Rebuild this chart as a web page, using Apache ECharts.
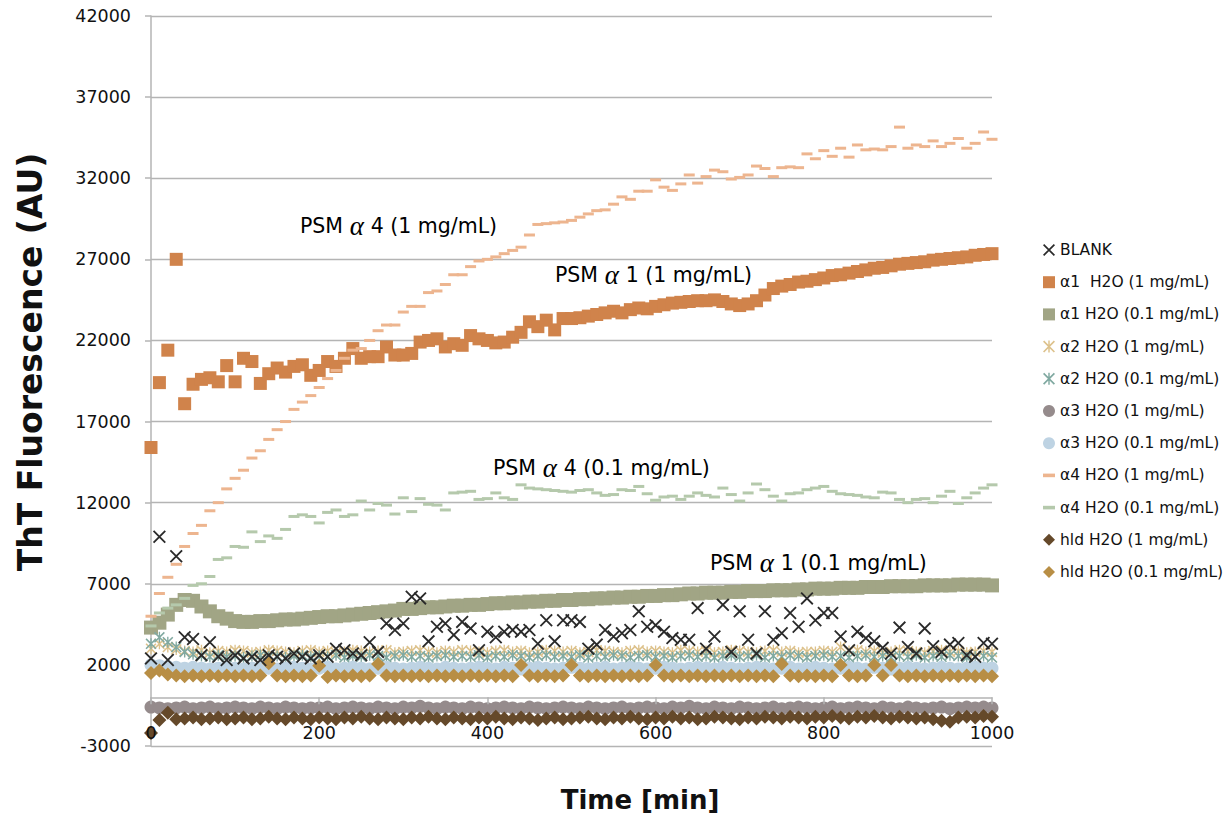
<!DOCTYPE html>
<html><head><meta charset="utf-8">
<script src="https://cdn.jsdelivr.net/npm/echarts@6/dist/echarts.min.js"></script>
<style>html,body{margin:0;padding:0;background:#fff}#c{width:1231px;height:819px}</style>
</head><body><div id="c"></div>
<script>
const times = [
 0,10,20,30,40,50,60,70,80,90,
 100,110,120,130,140,150,160,170,180,190,
 200,210,220,230,240,250,260,270,280,290,
 300,310,320,330,340,350,360,370,380,390,
 400,410,420,430,440,450,460,470,480,490,
 500,510,520,530,540,550,560,570,580,590,
 600,610,620,630,640,650,660,670,680,690,
 700,710,720,730,740,750,760,770,780,790,
 800,810,820,830,840,850,860,870,880,890,
 900,910,920,930,940,950,960,970,980,990,
 1000];

const blank = [
 2400,9900,2300,8700,3700,3600,2600,3400,2500,2300,
 2600,2400,2500,2300,2600,2500,2400,2700,2500,2400,
 2600,2500,3000,2900,2700,2600,3400,2800,4550,4150,
 4550,6200,6100,3450,4350,4550,3850,4650,4250,2900,
 4050,3700,4050,4150,4050,4150,3300,4750,3450,4750,
 4750,4650,3000,3250,4150,3750,3950,4150,5300,4350,
 4450,4050,3650,3550,3550,5500,3000,3750,5700,2800,
 5300,3550,2700,5300,3550,3950,5200,4350,6100,4750,
 5200,5200,3750,2900,4050,3650,3450,3050,2700,4300,
 3100,2700,4250,3150,2800,3250,3350,2600,2500,3350,
 3300];

const a1High = [
 15400,19400,21400,27000,18100,19300,19600,19700,19450,20450,
 19450,20900,20700,19350,19950,20300,20050,20400,20500,19850,
 20150,20700,20400,20900,21500,20900,21000,21000,21600,21100,
 21100,21200,21900,22000,22100,21600,21800,21700,22300,22100,
 22000,21850,21900,22200,22500,23150,22850,23250,22650,23350,
 23350,23400,23500,23600,23700,23800,23700,23900,24000,23950,
 24100,24200,24300,24350,24400,24450,24450,24500,24400,24250,
 24150,24250,24450,24800,25200,25350,25450,25600,25650,25750,
 25850,26000,26050,26150,26250,26350,26450,26500,26600,26700,
 26750,26800,26850,26950,27000,27050,27100,27150,27250,27300,
 27350];

const a1Low = [
 4300,4600,5100,5700,6000,5950,5600,5300,5000,4850,
 4700,4650,4650,4700,4700,4750,4800,4800,4850,4900,
 4950,5000,5000,5050,5100,5150,5200,5250,5300,5350,
 5450,5450,5500,5550,5550,5600,5650,5650,5700,5700,
 5750,5800,5800,5850,5850,5900,5900,5950,5950,6000,
 6000,6050,6050,6100,6100,6150,6150,6200,6200,6250,
 6250,6300,6300,6350,6400,6400,6450,6450,6450,6500,
 6500,6550,6550,6550,6600,6600,6600,6650,6650,6700,
 6700,6700,6750,6750,6750,6800,6800,6800,6850,6850,
 6850,6850,6900,6900,6900,6900,6950,6950,6950,6950,
 6900];

const a2High = [
 3000,3300,3100,2950,2850,2800,2900,2750,2850,2800,
 2900,2850,2750,2800,2900,2850,2800,2750,2850,2900,
 2800,2850,2750,2800,2900,2850,2800,2850,2900,2750,
 2800,2850,2900,2800,2750,2850,2800,2900,2850,2800,
 2750,2850,2900,2800,2850,2750,2800,2900,2850,2800,
 2850,2750,2800,2900,2850,2800,2750,2850,2900,2800,
 2850,2800,2750,2900,2850,2800,2850,2750,2800,2900,
 2850,2800,2750,2850,2900,2800,2850,2750,2800,2800,
 2850,2800,3100,2850,2900,2800,2850,2750,2800,2900,
 2850,2800,2750,2850,2900,2800,2850,2750,2800,2850,
 2800];

const a2Low = [
 3300,3700,3400,3100,2800,2650,2550,2500,2600,2500,
 2550,2450,2550,2600,2500,2550,2450,2550,2600,2500,
 2550,2500,2600,2450,2550,2500,2600,2550,2450,2550,
 2600,2500,2550,2450,2550,2600,2500,2550,2500,2600,
 2450,2550,2500,2600,2550,2450,2550,2600,2500,2550,
 2500,2600,2450,2550,2500,2600,2550,2450,2550,2600,
 2500,2550,2450,2550,2600,2500,2550,2450,2550,2600,
 2500,2550,2600,2450,2550,2500,2600,2550,2450,2550,
 2600,2500,2550,2450,2550,2600,2500,2550,2450,2550,
 2500,2600,2450,2550,2500,2600,2550,2450,2500,2550,
 2450];

const a3High = [
 -600,-650,-700,-650,-600,-700,-650,-600,-700,-650,
 -600,-650,-700,-600,-650,-700,-600,-650,-700,-650,
 -650,-600,-700,-650,-600,-650,-700,-600,-650,-700,
 -600,-650,-550,-650,-700,-600,-650,-700,-600,-650,
 -700,-650,-600,-650,-700,-600,-650,-700,-650,-600,
 -650,-700,-600,-650,-700,-650,-600,-700,-650,-600,
 -650,-700,-600,-650,-550,-650,-700,-600,-650,-700,
 -600,-650,-700,-650,-600,-700,-650,-600,-650,-700,
 -650,-600,-700,-650,-600,-650,-700,-600,-650,-700,
 -600,-650,-700,-650,-600,-700,-650,-600,-650,-600,
 -650];

const a3Low = [
 2000,1950,1900,1850,1800,1850,1800,1750,1800,1850,
 1800,1750,1800,1850,1800,1750,1800,1850,1800,1750,
 1800,1850,1750,1800,1850,1800,1750,1800,1850,1800,
 1750,1800,1850,1800,1750,1850,1800,1750,1800,1850,
 1800,1750,1850,1800,1750,1800,1850,1800,1750,1800,
 1850,1800,1750,1800,1850,1750,1800,1850,1800,1750,
 1800,1850,1800,1750,1800,1850,1800,1750,1850,1800,
 1750,1800,1850,1800,1750,1800,1850,1750,1800,1850,
 1800,1750,1800,1850,1800,1750,1850,1800,1750,1800,
 1850,1800,1750,1800,1850,1800,1750,1800,1850,1800,
 1800];

const a4High = [
 5000,6400,7400,8200,9300,10100,10600,11500,12000,12850,
 13500,14000,14750,15200,15900,16500,17000,17750,18200,18600,
 19100,19650,20150,20900,21400,21500,22000,22600,22950,22950,
 23750,24100,24100,24950,25050,25450,26050,26050,26550,26900,
 27000,27150,27350,27550,27750,28500,29150,29200,29250,29300,
 29400,29600,29800,30000,30050,30400,30850,30700,31200,31200,
 31900,31450,31250,31650,32200,31700,32100,32500,32400,31950,
 32050,32200,32750,32600,32100,32650,32700,32650,33500,33200,
 33700,33350,33850,33300,34050,33750,33800,33750,33950,35150,
 33850,34050,33950,34300,33950,34150,34450,33850,34150,34850,
 34400];

const a4Low = [
 4400,5200,5500,5700,6100,6900,7000,7450,8500,8600,
 9300,9250,10200,9600,9950,9800,10350,11150,11250,11150,
 10750,11400,11550,11150,11250,12100,11550,11950,11850,11300,
 12300,11450,12250,11900,11850,11550,12600,12650,12700,12200,
 12250,12600,12300,12200,13100,12900,12850,12800,12750,12700,
 12650,12750,12800,12600,12450,12500,12800,12750,13000,12550,
 12150,12350,12400,12200,12400,12600,12450,12350,12900,12500,
 12100,12600,13150,12800,12400,12100,12550,12600,12800,12900,
 13000,12700,12550,12500,12450,12350,12300,12650,12600,12200,
 12000,12200,12250,12000,12400,12700,11950,12300,12600,12900,
 13100];

const hldHigh = [
 -2200,-1400,-950,-1350,-1300,-1250,-1350,-1300,-1250,-1350,
 -1300,-1250,-1350,-1300,-1200,-1300,-1350,-1250,-1300,-1350,
 -1250,-1300,-1350,-1250,-1300,-1200,-1300,-1350,-1250,-1300,
 -1350,-1250,-1300,-1200,-1300,-1350,-1250,-1300,-1350,-1250,
 -1300,-1200,-1300,-1350,-1250,-1300,-1400,-1300,-1250,-1350,
 -1300,-1250,-1200,-1300,-1350,-1250,-1300,-1200,-1300,-1350,
 -1250,-1300,-1200,-1300,-1250,-1350,-1300,-1200,-1250,-1300,
 -1350,-1250,-1300,-1200,-1250,-1300,-1200,-1250,-1300,-1200,
 -1250,-1150,-1250,-1300,-1200,-1250,-1150,-1250,-1300,-1200,
 -1250,-1300,-1250,-1350,-1450,-1500,-1250,-1200,-1250,-1150,
 -1200];

const hldLow = [
 1500,1650,1400,1350,1300,1350,1300,1350,1300,1350,
 1300,1350,1300,1350,2100,1350,1300,1350,1300,1350,
 1950,1250,1350,1300,1350,1300,1350,2050,1350,1300,
 1350,1300,1350,1300,1350,1300,1350,1300,1350,1300,
 1350,1300,1350,1300,2000,1350,1300,1350,1300,1350,
 2000,1350,1300,1350,1300,1350,1300,1350,1300,1350,
 2000,1350,1300,1350,1300,1350,1300,1350,1300,1350,
 1300,1350,1300,1350,1300,2050,1350,1300,1350,1300,
 1350,1300,2000,1350,1300,1350,2000,1350,2000,1350,
 1300,1350,1300,1350,1300,1350,1300,1350,1300,1350,
 1300];

const seriesNames = ['BLANK','α1  H2O (1 mg/mL)','α1 H2O (0.1 mg/mL)','α2 H2O (1 mg/mL)','α2 H2O (0.1 mg/mL)',
 'α3 H2O (1 mg/mL)','α3 H2O (0.1 mg/mL)','α4 H2O (1 mg/mL)','α4 H2O (0.1 mg/mL)','hld H2O (1 mg/mL)','hld H2O (0.1 mg/mL)'];
const seriesValues = [blank,a1High,a1Low,a2High,a2Low,a3High,a3Low,a4High,a4Low,hldHigh,hldLow];
const yTicks = {min:-3000, max:42000, step:5000};
const xTicks = {min:0, max:1000, step:200};

const FONT = 'DejaVu Sans';
const CROSS = 'path://M0,1L1,0L10,9L9,10Z M9,0L10,1L1,10L0,9Z';
const STAR = 'path://M0,1L1,0L10,9L9,10Z M9,0L10,1L1,10L0,9Z M4.4,0H5.6V10H4.4Z';
const DASH = 'path://M0,0H10V3H0Z';
const styles = [
 {symbol:CROSS, size:13, color:'#2a2a2a', z:5},
 {symbol:'rect', size:13, color:'#D0834B'},
 {symbol:'rect', size:14, color:'#A1A585'},
 {symbol:STAR, size:11, color:'#DDC28C'},
 {symbol:STAR, size:11, color:'#80A9A1'},
 {symbol:'circle', size:13, color:'#958B8C'},
 {symbol:'circle', size:13, color:'#BED3E3'},
 {symbol:DASH, size:[11,3], color:'#EDB58F'},
 {symbol:DASH, size:[11,3], color:'#B5C9AC'},
 {symbol:'diamond', size:14, color:'#65492A'},
 {symbol:'diamond', size:14, color:'#B88E45'}
];

const series = seriesNames.map((name, k) => ({
  name, type:'scatter',
  symbol: styles[k].symbol, symbolSize: styles[k].size,
  itemStyle:{color: styles[k].color, opacity:1},
  z: styles[k].z || 2,
  emphasis:{disabled:true},
  data: times.map((t,i) => [t, seriesValues[k][i]]).filter(d => d[1] !== undefined)
}));

const gridTop = 16, gridBottom = 73, plotH = 819 - gridTop - gridBottom;
const zeroOffset = -plotH * (0 - yTicks.min) / (yTicks.max - yTicks.min);

const gridColor = '#b4b4b4';
const chart = echarts.init(document.getElementById('c'), null, {renderer:'svg'});
const rt = {
  t:{fontFamily:FONT, fontSize:20.5, color:'#111'},
  g:{fontFamily:'Liberation Serif', fontStyle:'italic', fontSize:27, color:'#111'},
  b:{fontFamily:FONT, fontSize:20.5, color:'#4B6FEA'},
  o:{fontFamily:FONT, fontSize:20.5, color:'#C97B42'}
};
function ann(x, y, num, cls, conc) {
  return {type:'text', left:x, top:y, z:100,
    style:{text:'{t|PSM}{g| α }{'+cls+'|'+num+'}{t| ('+conc+' mg/mL)}', rich:rt}};
}
chart.setOption({
  animation:false,
  backgroundColor:'#fff',
  grid:{left:151, right:239, top:gridTop, bottom:gridBottom, containLabel:false},
  xAxis:{type:'value', min:xTicks.min, max:xTicks.max, interval:xTicks.step,
    position:'bottom', offset:zeroOffset, z:10,
    axisLine:{show:true, onZero:false, lineStyle:{color:gridColor, width:1.5}},
    axisTick:{show:true, length:7, lineStyle:{color:gridColor, width:1.5}},
    splitLine:{show:false},
    axisLabel:{margin:27, fontSize:17.5, color:'#111', fontFamily:FONT, formatter: v => String(v)}},
  yAxis:{type:'value', min:yTicks.min, max:yTicks.max, interval:yTicks.step,
    axisLine:{show:true, lineStyle:{color:gridColor, width:1.5}},
    axisTick:{show:true, length:6, lineStyle:{color:gridColor, width:1.5}},
    splitLine:{show:true, lineStyle:{color:gridColor, width:1.4}},
    axisLabel:{margin:20, fontSize:17.5, color:'#111', fontFamily:FONT, formatter: v => String(v)}},
  legend:{orient:'vertical', left:1038, top:237, itemWidth:12, itemHeight:12, itemGap:16.2,
    selectedMode:false,
    textStyle:{fontFamily:FONT, fontSize:15.5, color:'#111'},
    data: seriesNames.map(n => ({name:n}))},
  graphic:[
    {type:'text', x:30, y:362, rotation:Math.PI/2, z:100,
      style:{text:'ThT Fluorescence (AU)', fontFamily:FONT, fontWeight:'bold', fontSize:33, fill:'#111', align:'center', verticalAlign:'middle'}},
    {type:'text', x:640, y:800, z:100,
      style:{text:'Time [min]', fontFamily:FONT, fontWeight:'bold', fontSize:26, fill:'#111', align:'center', verticalAlign:'middle'}},
    ann(300, 212, '4', 'b', '1'),
    ann(555, 261, '1', 'o', '1'),
    ann(493, 454, '4', 'b', '0.1'),
    ann(710, 549, '1', 'o', '0.1')
  ],
  series
});
</script>
</body></html>
